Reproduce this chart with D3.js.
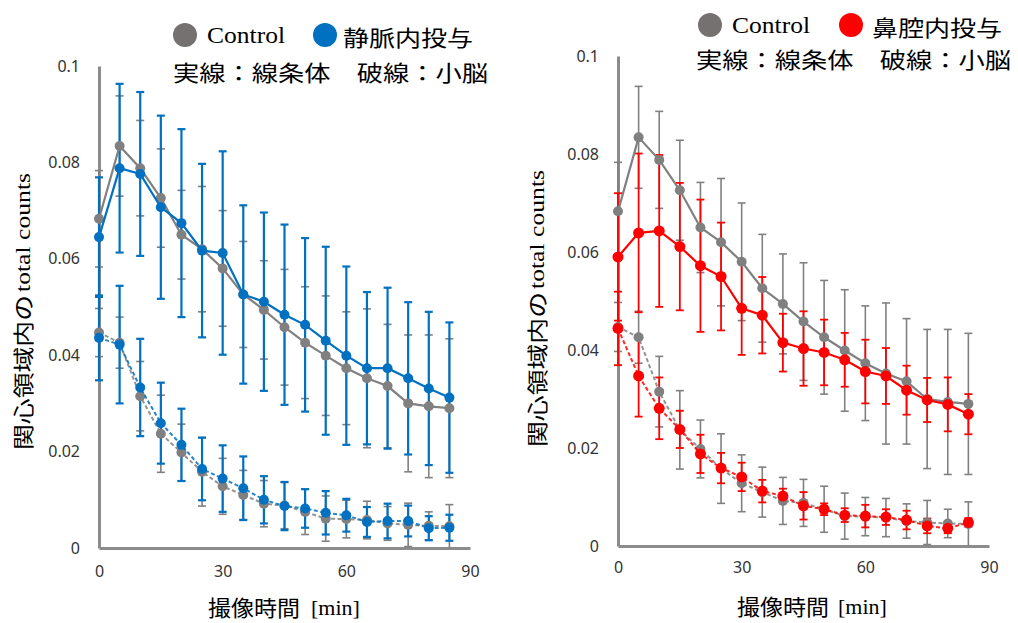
<!DOCTYPE html>
<html>
<head>
<meta charset="utf-8">
<script src="https://cdn.jsdelivr.net/npm/d3@7"></script>
<style>
body { margin: 0; background: #fff; }
svg { display: block; }
</style>
</head>
<body>
<script>
const times = [0, 5, 10, 15, 20, 25, 30, 35, 40, 45, 50, 55, 60, 65, 70, 75, 80, 85]
const xTicks = [0, 30, 60, 90]
const yTicks = [0, 0.02, 0.04, 0.06, 0.08, 0.1]

// Control (shared by both panels)
const ctrlStriatum = [0.0683, 0.0834, 0.0788, 0.0726, 0.0650, 0.0620, 0.0580, 0.0526, 0.0494, 0.0458, 0.0426, 0.0399, 0.0373, 0.0352, 0.0336, 0.0300, 0.0294, 0.0290]
const ctrlStriatumSd = [0.0100, 0.0104, 0.0099, 0.0102, 0.0092, 0.0130, 0.0120, 0.0110, 0.0102, 0.0120, 0.0116, 0.0124, 0.0117, 0.0144, 0.0128, 0.0142, 0.0148, 0.0144]
const ctrlCerebellum = [0.0447, 0.0426, 0.0315, 0.0237, 0.0198, 0.0158, 0.0128, 0.0110, 0.0092, 0.0088, 0.0075, 0.0061, 0.0060, 0.0058, 0.0051, 0.0048, 0.0046, 0.0045]
const ctrlCerebellumSd = [0.0050, 0.0053, 0.0072, 0.0080, 0.0059, 0.0071, 0.0058, 0.0051, 0.0048, 0.0048, 0.0047, 0.0047, 0.0039, 0.0039, 0.0035, 0.0045, 0.0029, 0.0045]

// 静脈内投与
const ivStriatum = [0.0645, 0.0788, 0.0776, 0.0707, 0.0674, 0.0617, 0.0612, 0.0526, 0.0511, 0.0484, 0.0463, 0.0430, 0.0399, 0.0373, 0.0373, 0.0352, 0.0331, 0.0312]
const ivStriatumSd = [0.0124, 0.0175, 0.0170, 0.0190, 0.0195, 0.0180, 0.0211, 0.0185, 0.0185, 0.0187, 0.0180, 0.0195, 0.0185, 0.0158, 0.0167, 0.0158, 0.0159, 0.0156]
const ivCerebellum = [0.0436, 0.0422, 0.0333, 0.0259, 0.0214, 0.0164, 0.0144, 0.0124, 0.0100, 0.0087, 0.0082, 0.0073, 0.0068, 0.0054, 0.0056, 0.0056, 0.0041, 0.0042]
const ivCerebellumSd = [0.0088, 0.0122, 0.0101, 0.0084, 0.0075, 0.0065, 0.0069, 0.0066, 0.0049, 0.0050, 0.0040, 0.0045, 0.0034, 0.0031, 0.0036, 0.0032, 0.0025, 0.0027]

// 鼻腔内投与
const inStriatum = [0.0590, 0.0639, 0.0643, 0.0611, 0.0572, 0.0550, 0.0485, 0.0471, 0.0415, 0.0403, 0.0395, 0.0380, 0.0356, 0.0347, 0.0318, 0.0298, 0.0289, 0.0269]
const inStriatumSd = [0.0130, 0.0162, 0.0155, 0.0130, 0.0135, 0.0110, 0.0095, 0.0078, 0.0059, 0.0076, 0.0067, 0.0055, 0.0065, 0.0057, 0.0050, 0.0045, 0.0055, 0.0041]
const inCerebellum = [0.0444, 0.0347, 0.0281, 0.0238, 0.0188, 0.0159, 0.0141, 0.0112, 0.0102, 0.0082, 0.0075, 0.0063, 0.0061, 0.0059, 0.0053, 0.0041, 0.0036, 0.0048]
const inCerebellumSd = [0.0075, 0.0083, 0.0063, 0.0038, 0.0039, 0.0031, 0.0029, 0.0023, 0.0015, 0.0028, 0.0012, 0.0014, 0.0023, 0.0016, 0.0019, 0.0015, 0.0010, 0.0009]

const gray = "#808080"
const axisGray = "#8c8c8c"
const serif = "'Liberation Serif', 'Times New Roman', serif"
const cjk = "'Noto Sans CJK JP', sans-serif"

const svg = d3.select("body").append("svg")
    .attr("width", 1018)
    .attr("height", 623)

const panels = [
    {
        left: 99, right: 470, bottom: 548, top: 66, tickPadX: 18,
        name: "静脈内投与", color: "#0070c0", barW: 2.2, r: 5,
        striatum: ivStriatum, striatumSd: ivStriatumSd, cerebellum: ivCerebellum, cerebellumSd: ivCerebellumSd,
        leg: { y1: 35, y2: 71, c1: 185, t1: 207, c2: 325, t2: 343, l2: 173 },
        xTitle: { y: 606, a: 208, b: 311 },
        yTitle: { x: 22, y: 450 }
    },
    {
        left: 618, right: 989, bottom: 546, top: 56, tickPadX: 16,
        name: "鼻腔内投与", color: "#ff0000", barW: 1.8, r: 5.5,
        striatum: inStriatum, striatumSd: inStriatumSd, cerebellum: inCerebellum, cerebellumSd: inCerebellumSd,
        leg: { y1: 25, y2: 58, c1: 710, t1: 732, c2: 851, t2: 872, l2: 696 },
        xTitle: { y: 605, a: 737, b: 838 },
        yTitle: { x: 536, y: 447 }
    }
]

function drawBars(g, x, y, vals, sds, color, width) {
    const pts = times.map((t, i) => ({ t: t, v: vals[i], sd: sds[i] }))
    const bars = g.append("g")
        .attr("stroke", color)
        .attr("stroke-width", width)
    bars.selectAll(".eb")
        .data(pts)
        .join("line")
        .attr("x1", d => x(d.t))
        .attr("x2", d => x(d.t))
        .attr("y1", d => y(d.v - d.sd))
        .attr("y2", d => y(d.v + d.sd))
    bars.selectAll(".capTop")
        .data(pts)
        .join("line")
        .attr("x1", d => x(d.t) - 4)
        .attr("x2", d => x(d.t) + 4)
        .attr("y1", d => y(d.v + d.sd))
        .attr("y2", d => y(d.v + d.sd))
    bars.selectAll(".capBottom")
        .data(pts.filter(d => d.v - d.sd > 0))
        .join("line")
        .attr("x1", d => x(d.t) - 4)
        .attr("x2", d => x(d.t) + 4)
        .attr("y1", d => y(d.v - d.sd))
        .attr("y2", d => y(d.v - d.sd))
}

function drawLine(g, x, y, vals, color, dashed, r) {
    const line = d3.line()
        .x((d, i) => x(times[i]))
        .y(d => y(d))
    g.append("path")
        .attr("d", line(vals))
        .attr("fill", "none")
        .attr("stroke", color)
        .attr("stroke-width", dashed ? 2 : 2.2)
        .attr("stroke-dasharray", dashed ? "4 2.5" : null)
        .attr("opacity", dashed ? 0.85 : 1)
    g.append("g")
        .selectAll("circle")
        .data(vals)
        .join("circle")
        .attr("cx", (d, i) => x(times[i]))
        .attr("cy", d => y(d))
        .attr("r", r)
        .attr("fill", color)
}

panels.forEach(p => {
    const x = d3.scaleLinear().domain([0, 90]).range([p.left, p.right])
    const y = d3.scaleLinear().domain([0, 0.1]).range([p.bottom, p.top]).clamp(true)

    const yAxis = d3.axisLeft(y)
        .tickValues(yTicks)
        .tickFormat(d3.format("~g"))
        .tickSize(0)
        .tickPadding(19)
    const xAxis = d3.axisBottom(x)
        .tickValues(xTicks)
        .tickSize(0)
        .tickPadding(p.tickPadX)

    const yG = svg.append("g")
        .attr("transform", `translate(${p.left}, 0)`)
        .call(yAxis)
    const xG = svg.append("g")
        .attr("transform", `translate(0, ${p.bottom})`)
        .call(xAxis)

    ;[yG, xG].forEach(a => {
        a.select(".domain").attr("stroke", axisGray).attr("stroke-width", 3)
        a.selectAll("text")
            .attr("font-family", "'Noto Sans', sans-serif")
            .attr("font-size", 16)
            .attr("fill", "#333")
    })

    const chartG = svg.append("g")

    drawBars(chartG, x, y, ctrlStriatum, ctrlStriatumSd, gray, 1.6)
    drawBars(chartG, x, y, ctrlCerebellum, ctrlCerebellumSd, gray, 1.6)
    drawBars(chartG, x, y, p.striatum, p.striatumSd, p.color, p.barW)
    drawBars(chartG, x, y, p.cerebellum, p.cerebellumSd, p.color, p.barW)

    drawLine(chartG, x, y, ctrlStriatum, gray, false, 5)
    drawLine(chartG, x, y, ctrlCerebellum, gray, true, 5)
    drawLine(chartG, x, y, p.striatum, p.color, false, p.r)
    drawLine(chartG, x, y, p.cerebellum, p.color, true, p.r)

    // legend
    const leg = svg.append("g")
    leg.append("circle").attr("cx", p.leg.c1).attr("cy", p.leg.y1).attr("r", 12).attr("fill", "#767171")
    leg.append("text")
        .attr("x", p.leg.t1).attr("y", p.leg.y1)
        .attr("dominant-baseline", "central")
        .attr("font-family", serif).attr("font-size", 23)
        .attr("textLength", 78).attr("lengthAdjust", "spacingAndGlyphs")
        .text("Control")
    leg.append("circle").attr("cx", p.leg.c2).attr("cy", p.leg.y1).attr("r", 12).attr("fill", p.color)
    leg.append("text")
        .attr("x", p.leg.t2).attr("y", p.leg.y1 + 1)
        .attr("dominant-baseline", "central")
        .attr("font-family", cjk).attr("font-size", 22)
        .attr("textLength", 130).attr("lengthAdjust", "spacingAndGlyphs")
        .text(p.name)
    leg.append("text")
        .attr("x", p.leg.l2).attr("y", p.leg.y2)
        .attr("dominant-baseline", "central")
        .attr("font-family", cjk).attr("font-size", 22)
        .attr("textLength", 315).attr("lengthAdjust", "spacingAndGlyphs")
        .text("実線：線条体　破線：小脳")

    // x title
    svg.append("text")
        .attr("x", p.xTitle.a).attr("y", p.xTitle.y)
        .attr("dominant-baseline", "central")
        .attr("font-family", cjk).attr("font-size", 22)
        .attr("textLength", 92).attr("lengthAdjust", "spacingAndGlyphs")
        .text("撮像時間")
    svg.append("text")
        .attr("x", p.xTitle.b).attr("y", p.xTitle.y + 1)
        .attr("dominant-baseline", "central")
        .attr("font-family", serif).attr("font-size", 22)
        .text("[min]")

    // y title
    const yt = svg.append("g")
        .attr("transform", `translate(${p.yTitle.x}, ${p.yTitle.y}) rotate(-90)`)
    yt.append("text")
        .attr("x", 0).attr("y", 0)
        .attr("dominant-baseline", "central")
        .attr("font-family", cjk).attr("font-size", 21)
        .attr("textLength", 155).attr("lengthAdjust", "spacingAndGlyphs")
        .text("関心領域内の")
    yt.append("text")
        .attr("x", 158).attr("y", 0)
        .attr("dominant-baseline", "central")
        .attr("font-family", serif).attr("font-size", 22)
        .attr("textLength", 119).attr("lengthAdjust", "spacingAndGlyphs")
        .text("total counts")
})
</script>
</body>
</html>
